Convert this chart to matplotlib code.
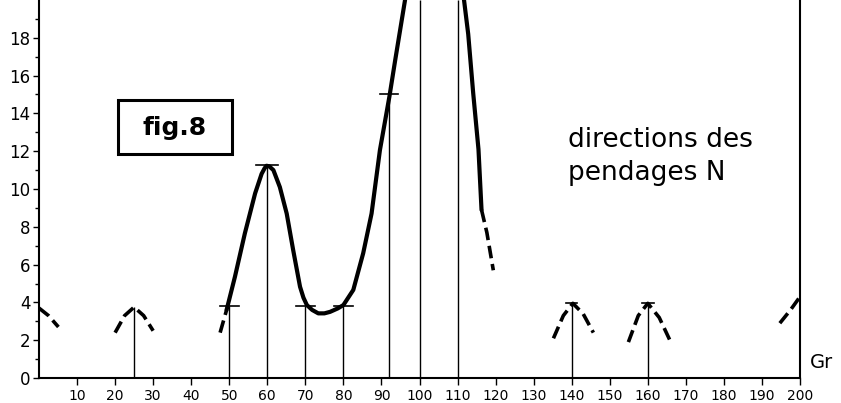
import numpy as np
import matplotlib.pyplot as plt
from matplotlib.patches import Rectangle

# hauteurs des traits verticaux (directions mesurees)
stem_x = [25, 50, 60, 70, 80, 92, 100, 110, 140, 160]
stem_y = [3.75, 3.8, 11.25, 3.8, 3.8, 15.0, 20.0, 20.0, 3.95, 3.95]
# petits traits horizontaux au sommet
cap_x = [50, 60, 70, 80, 92, 140, 160]
cap_y = [3.8, 11.25, 3.8, 3.8, 15.0, 3.95, 3.95]
cap_w = [2.5, 2.9, 2.5, 2.5, 2.3, 1.5, 1.5]

# courbe principale (trait plein)
main_x = [49.3, 51.5, 54.1, 56.8, 58.5, 59.3, 59.8, 60.5, 61.6, 63.3, 65.1, 66.8, 68.6, 69.5, 70.4,
          71.8, 73.4, 75.0, 76.5, 78.5, 80.0, 82.6, 85.2, 87.4, 89.6, 92.1, 93.6, 94.9, 96.2]
main_y = [3.6, 5.36, 7.65, 9.77, 10.8, 11.1, 11.23, 11.2, 11.0, 10.1, 8.7, 6.77, 4.83, 4.25, 3.86,
          3.6, 3.42, 3.42, 3.5, 3.68, 3.86, 4.66, 6.6, 8.7, 12.06, 14.9, 16.8, 18.4, 20.0]
right_x = [111.7, 112.8, 114.1, 115.5, 116.3]
right_y = [20.0, 18.2, 15.1, 12.1, 8.9]

# parties en tirets
dash_segs = [
    ([47.6, 49.3], [2.4, 3.6]),
    ([116.3, 117.7, 119.4], [8.9, 7.7, 5.7]),
    ([0, 2.5, 5.1], [3.7, 3.3, 2.7]),
    ([20, 22.5, 25, 27.5, 30], [2.4, 3.3, 3.75, 3.3, 2.5]),
    ([135.2, 137.8, 140.3, 143, 145.7], [2.1, 3.3, 3.95, 3.4, 2.4]),
    ([154.9, 157.5, 160, 163, 165.8], [1.9, 3.3, 3.95, 3.2, 2.0]),
    ([194.7, 197.5, 200], [2.9, 3.6, 4.3]),
]

xticks = list(range(10, 210, 10))
xlabels = [str(v) for v in xticks]
yticks = list(range(0, 20, 2))

fig = plt.figure(figsize=(8.41, 4.03), dpi=100)
ax = fig.add_axes([39 / 841, 25 / 403, 761 / 841, 378 / 403])

ax.vlines(stem_x, 0, stem_y, color='black', lw=1.0)
for x, y, w in zip(cap_x, cap_y, cap_w):
    ax.plot([x - w, x + w], [y, y], color='black', lw=1.2)

ax.plot(main_x, main_y, color='black', lw=3, solid_capstyle='round', solid_joinstyle='round')
ax.plot(right_x, right_y, color='black', lw=3, solid_capstyle='round')
for xs, ys in dash_segs:
    ax.plot(xs, ys, color='black', lw=2.6, linestyle=(0, (3.5, 1.6)))

ax.set_xlim(0, 200)
ax.set_ylim(0, 20)
ax.spines['top'].set_visible(False)
for s in ['left', 'bottom', 'right']:
    ax.spines[s].set_linewidth(1.5)

ax.set_xticks(xticks)
ax.set_xticklabels(xlabels, fontsize=10)
ax.set_yticks(yticks)
ax.set_yticklabels([str(v) for v in yticks], fontsize=12)
ax.set_yticks(range(0, 20), minor=True)
ax.tick_params(axis='x', direction='out', length=5, width=1, pad=3)
ax.tick_params(axis='y', which='both', direction='out', length=4, width=1, pad=2)
ax.tick_params(axis='y', which='minor', length=3)

# cadre fig.8
ax.add_patch(Rectangle((20.8, 11.85), 29.9, 2.85, fill=False, ec='black', lw=2.2))
ax.text(35.7, 13.25, 'fig.8', fontsize=18, fontweight='bold', ha='center', va='center')
ax.text(139, 11.7, 'directions des\npendages N', fontsize=19, ha='left', va='center',
        linespacing=1.35)
ax.text(202.5, 0.8, 'Gr', fontsize=14, ha='left', va='center', clip_on=False)

fig.savefig('out.png', dpi=100)
